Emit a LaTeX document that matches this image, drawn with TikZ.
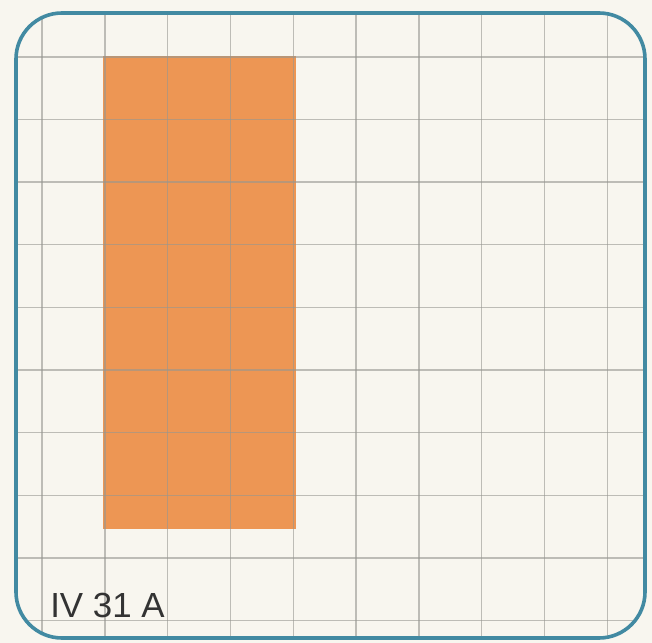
\documentclass[tikz,border=0pt]{standalone}
\usepackage{fontspec}
\setmainfont{Liberation Sans}
\usetikzlibrary{positioning}
\definecolor{paper}{RGB}{248,246,239}
\definecolor{gridgrey}{RGB}{150,150,145}
\definecolor{bandorange}{RGB}{237,150,84}
\definecolor{frameteal}{RGB}{66,138,162}

\begin{document}
\begin{tikzpicture}[x=0.025cm,y=-0.025cm]
  \tikzstyle{gridline}=[gridgrey,line width=0.035cm,opacity=0.6]
  \tikzstyle{frame}=[draw=frameteal,line width=0.09cm,rounded corners=1.15cm]
  \useasboundingbox[fill=paper] (0,0) rectangle (652,643);
  \begin{scope}
    \clip[rounded corners=1.15cm] (16,13) rectangle (645,638);
    \fill[bandorange] (103,56) rectangle (296,529);
    \foreach \i in {0,...,9} {
      \draw[gridline] ({42+62.8*\i},0) -- ({42+62.8*\i},643);
      \draw[gridline] (0,{57+62.6*\i}) -- (652,{57+62.6*\i});
    }
  \end{scope}
  \draw[frame] (16,13) rectangle (645,638);
  \node[anchor=base west,inner sep=0pt,text=black!80,font=\fontsize{24.8}{30}\selectfont] (tag) at (50,617) {IV 31 A};
\end{tikzpicture}
\end{document}
